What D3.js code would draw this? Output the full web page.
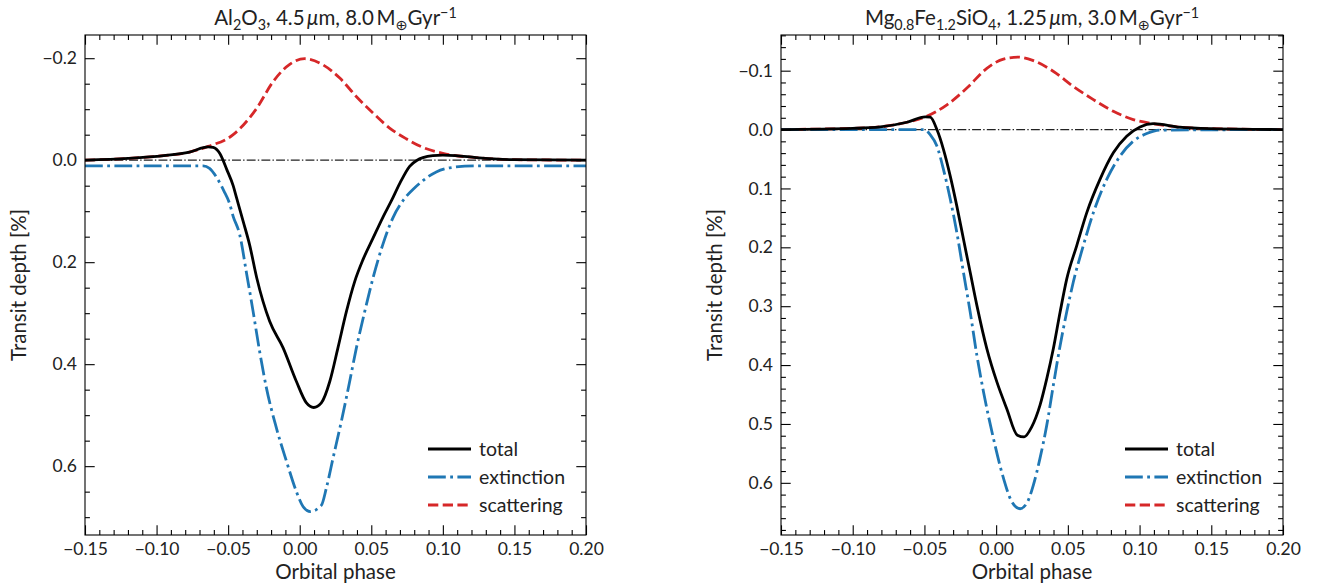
<!DOCTYPE html>
<html><head><meta charset="utf-8">
<script src="https://cdn.jsdelivr.net/npm/d3@7"></script>
<style>body{margin:0;background:#fff} text{font-family:Lato, "DejaVu Sans", sans-serif; fill:#222}</style>
</head><body><svg id="c" width="1317" height="586" xmlns="http://www.w3.org/2000/svg"></svg>
<script>
// ---------------- DATA ----------------
const xTicks = [-0.15, -0.10, -0.05, 0.00, 0.05, 0.10, 0.15, 0.20];
const leftYTicks = [-0.2, 0.0, 0.2, 0.4, 0.6];
const rightYTicks = [-0.1, 0.0, 0.1, 0.2, 0.3, 0.4, 0.5, 0.6];
const seriesNames = ["total", "extinction", "scattering"];

// Panel 1: Al2O3, 4.5 um
const al2o3TotalPhase = [-0.15, -0.12, -0.095, -0.077, -0.064, -0.0605, -0.0558, -0.051, -0.0465, -0.044, -0.0395, -0.035, -0.030, -0.021, -0.0116, -0.0023, 0.0047, 0.0098, 0.0151, 0.021, 0.0267, 0.0326, 0.0384, 0.0442, 0.0512, 0.0581, 0.064, 0.070, 0.0768, 0.082, 0.0861, 0.093, 0.10, 0.109, 0.1233, 0.15, 0.20];
const al2o3TotalDepth = [0, -0.0035, -0.009, -0.016, -0.026, -0.025, -0.013, 0.018, 0.05, 0.075, 0.12, 0.166, 0.231, 0.316, 0.368, 0.434, 0.476, 0.485, 0.476, 0.434, 0.368, 0.297, 0.238, 0.195, 0.153, 0.112, 0.080, 0.045, 0.012, 0.000, -0.005, -0.009, -0.010, -0.009, -0.005, -0.001, 0];
const al2o3ExtPhase = [-0.15, -0.10, -0.0675, -0.063, -0.058, -0.053, -0.049, -0.0465, -0.042, -0.037, -0.0326, -0.028, -0.0233, -0.0163, -0.0093, -0.0023, 0.0023, 0.0074, 0.0151, 0.0186, 0.0233, 0.0291, 0.0349, 0.0396, 0.0454, 0.0512, 0.0581, 0.0651, 0.0733, 0.080, 0.0861, 0.0954, 0.1047, 0.1233, 0.20];
const al2o3ExtDepth = [0.011, 0.011, 0.011, 0.016, 0.034, 0.06, 0.085, 0.11, 0.145, 0.224, 0.296, 0.375, 0.446, 0.525, 0.59, 0.65, 0.679, 0.689, 0.677, 0.643, 0.584, 0.512, 0.434, 0.368, 0.297, 0.231, 0.165, 0.113, 0.075, 0.055, 0.040, 0.023, 0.015, 0.011, 0.011];
const al2o3ScatPhase = [-0.15, -0.12, -0.095, -0.077, -0.064, -0.0465, -0.030, -0.0186, -0.007, 0.0035, 0.0163, 0.028, 0.0395, 0.051, 0.0628, 0.0744, 0.0861, 0.10, 0.1233, 0.15, 0.20];
const al2o3ScatDepth = [0, -0.0035, -0.009, -0.016, -0.027, -0.050, -0.102, -0.154, -0.188, -0.199, -0.187, -0.161, -0.125, -0.093, -0.063, -0.042, -0.025, -0.0135, -0.005, -0.001, 0];

// Panel 2: Mg0.8Fe1.2SiO4, 1.25 um
const mgfeTotalPhase = [-0.15, -0.10, -0.0808, -0.0622, -0.0494, -0.046, -0.0413, -0.0367, -0.032, -0.0274, -0.0228, -0.0181, -0.0134, -0.0065, 0.0005, 0.0074, 0.0148, 0.0195, 0.0248, 0.0306, 0.0353, 0.0399, 0.0446, 0.0492, 0.0562, 0.0632, 0.0724, 0.0817, 0.091, 0.1003, 0.1095, 0.128, 0.15, 0.20];
const mgfeTotalDepth = [0, -0.002, -0.0045, -0.0124, -0.0214, -0.021, 0, 0.034, 0.079, 0.13, 0.186, 0.2425, 0.299, 0.372, 0.4286, 0.474, 0.519, 0.522, 0.505, 0.468, 0.423, 0.372, 0.31, 0.254, 0.197, 0.141, 0.0846, 0.0395, 0.0113, -0.0045, -0.010, -0.004, -0.0015, 0];
const mgfeExtPhase = [-0.15, -0.0506, -0.046, -0.0413, -0.0367, -0.032, -0.0274, -0.0228, -0.0181, -0.0134, -0.0088, -0.0019, 0.0051, 0.0109, 0.0167, 0.0214, 0.026, 0.0306, 0.0353, 0.0399, 0.0446, 0.0492, 0.0538, 0.0608, 0.0678, 0.0771, 0.0864, 0.0956, 0.105, 0.1142, 0.20];
const mgfeExtDepth = [0, 0, 0.0085, 0.028, 0.068, 0.118, 0.175, 0.2425, 0.31, 0.384, 0.4456, 0.5245, 0.592, 0.632, 0.644, 0.6345, 0.6035, 0.558, 0.502, 0.434, 0.367, 0.31, 0.259, 0.197, 0.141, 0.0846, 0.045, 0.0198, 0.0068, 0.001, 0];
const mgfeScatPhase = [-0.15, -0.12, -0.10, -0.0808, -0.0622, -0.0494, -0.0343, -0.0204, -0.0065, 0.0051, 0.0155, 0.026, 0.040, 0.0538, 0.0678, 0.0817, 0.0956, 0.1095, 0.128, 0.15, 0.20];
const mgfeScatDepth = [0, -0.001, -0.002, -0.0045, -0.0124, -0.0214, -0.042, -0.0705, -0.104, -0.1196, -0.123, -0.117, -0.0987, -0.0733, -0.0508, -0.031, -0.017, -0.010, -0.004, -0.0015, 0];

// ---------------- LAYOUT / STYLE ----------------
const styles = {
  total: {color: "#000000", dash: null},
  extinction: {color: "#1f77b4", dash: "17.8,4.4,2.8,4.4"},
  scattering: {color: "#d62728", dash: "10.3,4.4"}
};
const panels = [
  {left: 85, right: 586, top: 35, bottom: 535, yDomain: [-0.2455, 0.735], yTicks: leftYTicks, yMinor: 0.05, yFmt: d3.format(".1f"),
   title: [{t: "Al"}, {t: "2", s: -1}, {t: "O"}, {t: "3", s: -1}, {t: ", 4.5\u2009"}, {t: "\u03bc", i: true}, {t: "m, 8.0\u2009M"}, {t: "\u2295", s: -1}, {t: "Gyr"}, {t: "\u22121", s: 1}],
   series: {total: [al2o3TotalPhase, al2o3TotalDepth], extinction: [al2o3ExtPhase, al2o3ExtDepth], scattering: [al2o3ScatPhase, al2o3ScatDepth]}},
  {left: 781, right: 1283, top: 35, bottom: 535, yDomain: [-0.1606, 0.6886], yTicks: rightYTicks, yMinor: 0.02, yFmt: d3.format(".1f"),
   title: [{t: "Mg"}, {t: "0.8", s: -1}, {t: "Fe"}, {t: "1.2", s: -1}, {t: "SiO"}, {t: "4", s: -1}, {t: ", 1.25\u2009"}, {t: "\u03bc", i: true}, {t: "m, 3.0\u2009M"}, {t: "\u2295", s: -1}, {t: "Gyr"}, {t: "\u22121", s: 1}],
   series: {total: [mgfeTotalPhase, mgfeTotalDepth], extinction: [mgfeExtPhase, mgfeExtDepth], scattering: [mgfeScatPhase, mgfeScatDepth]}}
];

const svg = d3.select("#c");
const TICK_FS = 17.5, LABEL_FS = 20.5, TITLE_FS = 20.5, LEG_FS = 19.5;
const minus = s => s.replace(/-/g, "\u2212");

function richText(g, parts, size) {
  let cur = 0;
  parts.forEach(p => {
    const target = p.s === -1 ? size * 0.26 : p.s === 1 ? -size * 0.36 : 0;
    const ts = g.append("tspan").text(p.t).attr("dy", target - cur);
    if (p.s) ts.attr("font-size", size * 0.7);
    if (p.i) ts.attr("font-style", "italic");
    cur = target;
  });
}

panels.forEach((P, pi) => {
  const x = d3.scaleLinear().domain([-0.15, 0.20]).range([P.left, P.right]);
  const y = d3.scaleLinear().domain(P.yDomain).range([P.top, P.bottom]);
  const g = svg.append("g");
  const W = P.right - P.left, H = P.bottom - P.top;

  const clipId = "clip" + pi;
  svg.append("clipPath").attr("id", clipId).append("rect")
    .attr("x", P.left).attr("y", P.top).attr("width", W).attr("height", H);

  // zero line
  g.append("line").attr("x1", x(-0.15)).attr("x2", x(0.20)).attr("y1", y(0)).attr("y2", y(0))
    .attr("stroke", "#222").attr("stroke-width", 1.2).attr("stroke-dasharray", "8.9,2.2,1.4,2.2");

  // series
  const line = d3.line().x(d => x(d[0])).y(d => y(d[1])).curve(d3.curveMonotoneX);
  ["scattering", "extinction", "total"].forEach(name => {
    const [px, py] = P.series[name];
    const pts = px.map((v, i) => [v, py[i]]);
    const st = styles[name];
    g.append("path").datum(pts).attr("d", line).attr("fill", "none")
      .attr("stroke", st.color).attr("stroke-width", 2.8)
      .attr("stroke-dasharray", st.dash).attr("clip-path", `url(#${clipId})`);
  });

  // axes
  const xMinor = d3.range(-0.15, 0.2001, 0.01).map(v => +v.toFixed(3)).filter(v => !xTicks.some(t => Math.abs(t - v) < 1e-6));
  const yLo = Math.ceil(P.yDomain[0] / P.yMinor - 1e-9), yHi = Math.floor(P.yDomain[1] / P.yMinor + 1e-9);
  const yMinor = d3.range(yLo, yHi + 1).map(k => +(k * P.yMinor).toFixed(3)).filter(v => !P.yTicks.some(t => Math.abs(t - v) < 1e-6));

  const styleAxis = sel => {
    sel.select(".domain").remove();
    sel.selectAll("line").attr("stroke", "#000").attr("stroke-width", 1.1);
    sel.selectAll("text").attr("font-size", TICK_FS).attr("fill", "#222").attr("font-family", "Lato, sans-serif");
  };
  const mk = (axisFn, scale, vals, size, fmt, transform) => {
    const a = axisFn(scale).tickValues(vals).tickSizeInner(-size).tickSizeOuter(0).tickPadding(8)
      .tickFormat(fmt ? (d => minus(fmt(d))) : "");
    g.append("g").attr("transform", transform).call(a).call(styleAxis);
  };
  mk(d3.axisBottom, x, xTicks, 9.7, d3.format(".2f"), `translate(0,${P.bottom})`);
  mk(d3.axisBottom, x, xMinor, 4.9, null, `translate(0,${P.bottom})`);
  mk(d3.axisTop, x, xTicks, 9.7, null, `translate(0,${P.top})`);
  mk(d3.axisTop, x, xMinor, 4.9, null, `translate(0,${P.top})`);
  mk(d3.axisLeft, y, P.yTicks, 9.7, P.yFmt, `translate(${P.left},0)`);
  mk(d3.axisLeft, y, yMinor, 4.9, null, `translate(${P.left},0)`);
  mk(d3.axisRight, y, P.yTicks, 9.7, null, `translate(${P.right},0)`);
  mk(d3.axisRight, y, yMinor, 4.9, null, `translate(${P.right},0)`);

  g.append("rect").attr("x", P.left).attr("y", P.top).attr("width", W).attr("height", H)
    .attr("fill", "none").attr("stroke", "#000").attr("stroke-width", 1.1);

  // labels
  g.append("text").attr("x", (P.left + P.right) / 2).attr("y", 579).attr("text-anchor", "middle")
    .attr("font-size", LABEL_FS).text("Orbital phase");
  g.append("text").attr("transform", `translate(${P.left - 59},${(P.top + P.bottom) / 2}) rotate(-90)`)
    .attr("text-anchor", "middle").attr("font-size", LABEL_FS).text("Transit depth [%]");
  const tt = g.append("text").attr("x", (P.left + P.right) / 2).attr("y", 25).attr("text-anchor", "middle").attr("font-size", TITLE_FS);
  richText(tt, P.title, TITLE_FS);

  // legend
  const lx = P.right - 158;
  seriesNames.forEach((name, i) => {
    const ly = 449 + i * 28;
    const st = styles[name];
    g.append("line").attr("x1", lx).attr("x2", lx + 43).attr("y1", ly).attr("y2", ly)
      .attr("stroke", st.color).attr("stroke-width", 2.8).attr("stroke-dasharray", st.dash);
    g.append("text").attr("x", lx + 51).attr("y", ly + 6.5).attr("font-size", LEG_FS).text(name);
  });
});
</script>
</body></html>
